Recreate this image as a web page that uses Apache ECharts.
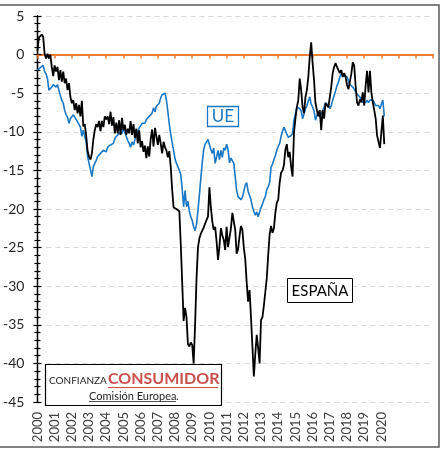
<!DOCTYPE html>
<html>
<head>
<meta charset="utf-8">
<script src="https://cdn.jsdelivr.net/npm/echarts@6/dist/echarts.min.js"></script>
<style>
html,body{margin:0;padding:0;background:#fff;}
#chart{width:441px;height:450px;}
</style>
</head>
<body>
<div id="chart"></div>
<script>
// Monthly series starting January 2000
const startYear = 2000;
const spainValues = [
  0.5, 2.2, 2.4, 2.6, 2.3, 0.1, -0.5, 0.1, -0.5, 0.0, -1.6, -2.8,
  -1.4, -2.2, -1.6, -3.3, -2.0, -3.5, -2.2, -3.7, -3.1, -4.6, -3.7, -5.5,
  -6.3, -5.9, -7.2, -6.3, -7.6, -6.5, -8.0, -6.0, -9.3, -9.0, -10.5, -12.5,
  -13.2, -13.6, -12.8, -11.0, -9.8, -9.0, -9.4, -8.6, -9.9, -8.6, -9.4, -8.0,
  -8.4, -8.0, -9.0, -7.4, -9.2, -8.1, -10.2, -8.8, -10.2, -8.5, -10.4, -8.2,
  -9.8, -9.1, -10.4, -9.6, -10.2, -8.6, -10.4, -9.0, -10.8, -9.6, -11.5, -9.8,
  -12.0, -11.2, -12.6, -11.8, -13.4, -11.9, -13.2, -11.0, -9.7, -11.9, -9.5, -10.6,
  -11.7, -10.4, -11.5, -12.8, -11.3, -12.0, -12.4, -13.3, -12.5, -14.5, -17.5, -19.8,
  -20.0, -20.0, -20.1, -20.3, -24.5, -29.5, -34.5, -32.8, -34.0, -37.5, -37.8, -37.3,
  -37.6, -40.0, -35.0, -29.0, -25.0, -23.8, -23.2, -23.0, -22.4, -21.9, -21.4, -21.0,
  -17.2, -19.8, -21.6, -22.7, -22.3, -24.2, -26.6, -24.8, -22.5, -23.4, -24.0, -25.3,
  -22.3, -24.9, -25.1, -22.5, -20.5, -20.5, -22.7, -25.8, -25.2, -23.5, -22.2, -22.7,
  -25.0, -26.5, -29.5, -32.0, -30.5, -34.0, -37.8, -41.7, -38.8, -36.3, -38.0, -40.0,
  -34.4, -34.0, -32.5, -32.4, -29.0, -26.0, -23.3, -22.2, -23.1, -22.5, -20.5, -19.2,
  -18.8, -16.6, -15.3, -15.0, -14.3, -12.3, -11.6, -13.3, -12.6, -14.5, -15.8, -10.1,
  -8.3, -6.8, -5.9, -3.1, -4.6, -6.8, -7.6, -5.5, -4.6, -2.9, -0.3, 1.6,
  -1.1, -3.3, -6.3, -7.2, -8.0, -7.2, -9.8, -7.2, -8.3, -6.3, -6.1, -6.8,
  -5.5, -4.2, -2.4, -1.6, -1.1, -1.6, -1.4, -2.4, -2.0, -2.9, -2.4, -2.9,
  -3.9, -4.5, -3.5, -2.5, -1.0, -1.4, -4.0, -6.2, -6.6, -5.8, -6.2, -4.9,
  -6.6, -4.0, -2.1, -4.9, -2.1, -4.9, -6.2, -7.2, -8.3, -10.5, -11.3, -12.1,
  -10.0, -7.9, -11.6
];
const ueValues = [
  -2.0, -1.8, -1.7, -1.6, -1.4, -2.2, -2.5, -3.1, -4.6, -4.4, -4.2, -3.9,
  -3.7, -4.2, -3.9, -4.6, -5.3, -5.9, -6.3, -7.2, -7.8, -8.1, -8.9, -8.3,
  -8.1, -7.8, -8.1, -8.3, -8.7, -8.6, -9.4, -10.6, -9.8, -10.6, -11.3, -13.2,
  -14.1, -14.9, -15.8, -14.5, -14.1, -13.7, -13.2, -13.4, -12.8, -12.6, -12.4, -12.6,
  -12.6, -12.0, -12.2, -11.7, -11.7, -11.5, -10.9, -10.6, -10.4, -10.2, -10.0, -10.2,
  -9.6, -9.8, -10.6, -11.1, -11.5, -12.0, -11.3, -11.7, -11.0, -10.4, -10.2, -9.5,
  -9.2, -8.9, -8.7, -8.9, -8.4, -8.2, -8.0, -7.8, -7.6, -6.9, -7.4, -6.7,
  -6.5, -6.3, -5.6, -5.2, -5.0, -5.0, -5.9, -7.4, -9.0, -10.3, -11.4, -12.4,
  -13.5, -14.1, -14.5, -15.0, -15.5, -17.4, -19.7, -17.6, -19.7, -19.0, -20.3, -21.0,
  -21.5, -22.3, -22.8, -22.0, -20.2, -18.2, -16.0, -14.0, -12.3, -11.6, -11.3, -11.0,
  -11.0, -12.3, -12.8, -12.1, -14.1, -14.3, -12.4, -13.6, -12.4, -13.3, -12.1, -12.4,
  -11.6, -12.3, -14.0, -13.4, -13.6, -14.1, -15.8, -17.6, -18.4, -18.6, -18.8, -18.5,
  -18.4, -16.9, -16.6, -17.7, -17.9, -18.8, -19.7, -20.3, -20.8, -20.4, -21.0, -21.2,
  -19.8, -19.4, -18.8, -18.4, -17.5, -17.1, -16.6, -14.6, -14.2, -13.6, -13.1, -12.4,
  -11.9, -11.5, -10.6, -9.9, -9.4, -9.6, -10.3, -10.7, -10.7, -10.5, -10.2, -8.5,
  -7.7, -6.8, -7.0, -7.0, -7.3, -8.3, -7.7, -7.0, -6.6, -6.0, -5.5, -6.4,
  -6.8, -7.3, -8.5, -7.9, -7.3, -8.1, -7.7, -7.3, -6.8, -6.2, -6.4, -6.6,
  -7.0, -6.6, -5.9, -5.3, -4.7, -4.0, -3.6, -2.9, -2.5, -2.6, -2.7, -2.6,
  -2.9, -3.4, -3.9, -4.0, -4.2, -4.3, -4.8, -5.1, -5.3, -5.5, -5.7, -6.2,
  -6.0, -6.2, -5.9, -6.2, -5.9, -6.0, -5.9, -6.2, -6.6, -6.4, -6.6, -7.0,
  -6.4, -5.9, -8.0
];
const xMin = 2000, xMax = 2023, lastLabelYear = 2020;
const yMin = -45, yMax = 5, yStep = 5;
const seriesNames = ['UE', 'ESPAÑA'];
const titleParts = ['CONFIANZA', 'CONSUMIDOR', 'Comisión Europea', '.'];

function toPoints(vals) {
  return vals.map((v, i) => [startYear + i / 12, v]);
}

const FONT = 'Lato, "Noto Sans", sans-serif';
const chart = echarts.init(document.getElementById('chart'), null, {renderer: 'canvas'});

const yBase = {
  type: 'value', min: yMin, max: yMax, interval: yStep, position: 'left',
  axisLine: {show: true, onZero: false, lineStyle: {color: '#000', width: 1.3}},
  minorTick: {show: true, splitNumber: 5, length: 3, lineStyle: {color: '#000', width: 1.2}},
  minorSplitLine: {show: false}
};

chart.setOption({
  backgroundColor: '#fff',
  animation: false,
  grid: {left: 36, right: 8, top: 16, bottom: 48, containLabel: false},
  xAxis: [
    {
      type: 'value', min: xMin, max: xMax, interval: 1,
      axisLine: {show: true, onZero: true, onZeroAxisIndex: 0, lineStyle: {color: '#ED7D31', width: 2}},
      axisTick: {show: true, inside: false, length: 4, lineStyle: {color: '#ED7D31', width: 1.5}},
      axisLabel: {show: false},
      splitLine: {show: false}
    },
    {
      type: 'value', min: xMin, max: xMax, interval: 1, position: 'bottom',
      axisLine: {show: false, onZero: false},
      axisTick: {show: false},
      axisLabel: {
        show: true, rotate: 90, margin: 10, fontSize: 13, color: '#404040', fontFamily: FONT,
        formatter: v => (v <= lastLabelYear ? String(v) : '')
      },
      splitLine: {show: false}
    }
  ],
  yAxis: [
    Object.assign({}, yBase, {
      axisTick: {show: true, inside: false, length: 4, lineStyle: {color: '#000', width: 1.2}},
      axisLabel: {show: true, margin: 13, fontSize: 14, color: '#262626', fontFamily: FONT},
      splitLine: {show: true, lineStyle: {color: '#d9d9d9', width: 1, type: [5, 4]}}
    }),
    Object.assign({}, yBase, {
      axisTick: {show: true, inside: true, length: 4, lineStyle: {color: '#000', width: 1.2}},
      axisLabel: {show: false},
      splitLine: {show: false}
    })
  ],
  series: [
    {
      name: seriesNames[0], type: 'line', xAxisIndex: 0, yAxisIndex: 0,
      data: toPoints(ueValues), showSymbol: false, symbol: 'none',
      lineStyle: {color: '#1a78c4', width: 1.6}, z: 3
    },
    {
      name: seriesNames[1], type: 'line', xAxisIndex: 0, yAxisIndex: 0,
      data: toPoints(spainValues), showSymbol: false, symbol: 'none',
      lineStyle: {color: '#000', width: 1.8}, z: 4
    }
  ],
  graphic: [
    {type: 'rect', z: 1, silent: true, shape: {x: -2, y: 5, width: 441, height: 442},
     style: {fill: 'none', stroke: '#595959', lineWidth: 1.5}},
    // UE label box
    {type: 'rect', z: 10, shape: {x: 207.5, y: 106.5, width: 31, height: 20},
     style: {fill: '#fff', stroke: '#1a78c4', lineWidth: 1.3}},
    {type: 'text', z: 11, x: 223, y: 117,
     style: {text: seriesNames[0], fill: '#1a78c4', font: '17px ' + FONT, textAlign: 'center', textVerticalAlign: 'middle'}},
    // ESPAÑA label box
    {type: 'rect', z: 10, shape: {x: 287.5, y: 278.5, width: 65, height: 24},
     style: {fill: '#fff', stroke: '#000', lineWidth: 1}},
    {type: 'text', z: 11, x: 320, y: 291,
     style: {text: seriesNames[1], fill: '#000', font: '15px ' + FONT, textAlign: 'center', textVerticalAlign: 'middle'}},
    // Title box
    {type: 'rect', z: 10, shape: {x: 45.5, y: 364.5, width: 176, height: 41},
     style: {fill: '#fff', stroke: '#000', lineWidth: 1.2}},
    {type: 'text', z: 11, x: 49, y: 380.5,
     style: {text: titleParts[0], fill: '#262626', font: '10px ' + FONT, textAlign: 'left', textVerticalAlign: 'middle'}},
    {type: 'text', z: 11, x: 108, y: 379,
     style: {text: titleParts[1], fill: '#c9504d', font: 'bold 16px ' + FONT, textAlign: 'left', textVerticalAlign: 'middle'}},
    {type: 'line', z: 11, shape: {x1: 108, y1: 387.5, x2: 218, y2: 387.5},
     style: {stroke: '#c9504d', lineWidth: 1}},
    {type: 'text', z: 11, x: 89, y: 396,
     style: {text: titleParts[2], fill: '#262626', font: '11px ' + FONT, textAlign: 'left', textVerticalAlign: 'middle'}},
    {type: 'line', z: 11, shape: {x1: 89, y1: 401.5, x2: 176, y2: 401.5},
     style: {stroke: '#262626', lineWidth: 0.8}},
    {type: 'text', z: 11, x: 176, y: 396,
     style: {text: titleParts[3], fill: '#262626', font: '11px ' + FONT, textAlign: 'left', textVerticalAlign: 'middle'}}
  ]
});
</script>
</body>
</html>
